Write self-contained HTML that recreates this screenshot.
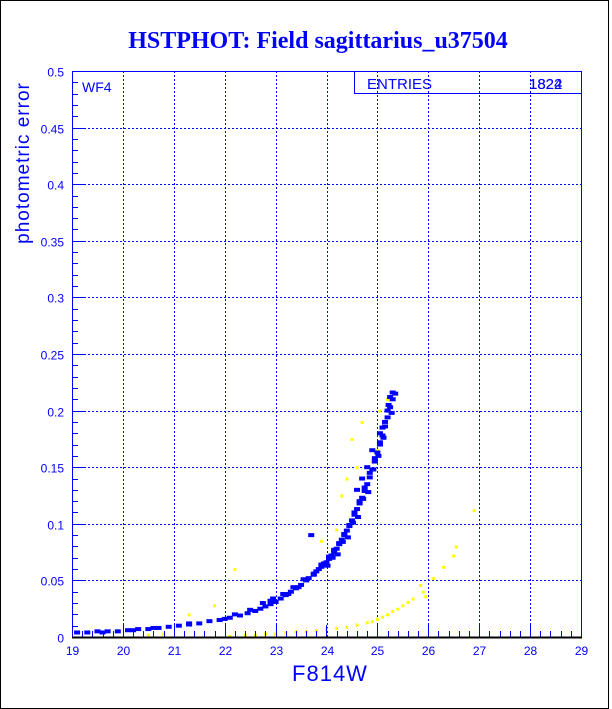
<!DOCTYPE html>
<html><head><meta charset="utf-8"><style>
html,body{margin:0;padding:0;background:#fff;}
svg{display:block;font-family:"Liberation Sans",sans-serif;}
</style></head><body>
<svg id="chart" width="612" height="709" viewBox="0 0 612 709" xmlns="http://www.w3.org/2000/svg">
<rect x="0.5" y="0.5" width="608" height="708" fill="#fff" stroke="#000" stroke-width="1"/>
<text x="318" y="48" text-anchor="middle" font-family="Liberation Serif,serif" font-weight="bold" font-size="24" fill="#0000ff">HSTPHOT: Field sagittarius_u37504</text>
<g id="grid"></g>
<g id="marks"></g>
<g id="axes"></g>
<text x="82" y="92" font-size="14" fill="#0000ff">WF4</text>
<g>
<rect x="354.5" y="71.5" width="227" height="22" fill="none" stroke="#0000ff"/>
<text x="367" y="89" font-size="15" fill="#0000ff">ENTRIES</text>
<text x="529" y="89" font-size="15" fill="#0000ff">1822</text>
<text x="529" y="89" font-size="15" fill="#0000ff">1824</text>
</g>
<text x="330" y="681" text-anchor="middle" font-size="22" letter-spacing="1" fill="#0000ff">F814W</text>
<text transform="translate(29,163) rotate(-90)" text-anchor="middle" font-size="19" letter-spacing="1" fill="#0000ff">photometric error</text>
</svg>
<script>
const xTicks=[19,20,21,22,23,24,25,26,27,28,29];
const yTicks=[0,0.05,0.1,0.15,0.2,0.25,0.3,0.35,0.4,0.45,0.5];
const yTickLabels=["0","0.05","0.1","0.15","0.2","0.25","0.3","0.35","0.4","0.45","0.5"];
const blueMag=[19.1,19.3,19.5,19.7,19.9,20.1,20.3,20.5,20.7,20.9,21.1,21.3,21.5,21.7,21.9,22.0,22.1,22.3,22.45,22.6,22.7,22.8,22.9,23.0,23.1,23.2,23.3,23.4,23.5,23.6,23.65,23.75,23.8,23.9,24.0,24.05,24.1,24.15,24.2,24.25,24.3,24.35,24.4,24.45,24.5,24.55,24.6,24.65,24.7,24.75,24.8,24.85,24.9,24.95,25.0,25.05,25.1,25.15,25.2,25.25,25.3,25.35,25.25,25.15,25.05,24.95,24.85,24.75,24.65,24.55,24.45,24.35,24.25,24.15,24.05,23.95,23.85,23.75,23.45,23.25,23.7,22.9,23.9,24.6,24.8,25.05,25.2,25.3,25.1,24.9,24.7,22.5,22.2,21.3,20.2,20.6,19.6,23.55,23.35,23.15,22.95,22.75,24.12,24.32,24.52,24.72,24.92,25.12,25.28,25.22,25.02,24.82,24.62,24.42,24.22,24.02];
const blueErr=[0.004,0.004,0.005,0.005,0.005,0.006,0.007,0.007,0.008,0.009,0.010,0.011,0.012,0.014,0.015,0.016,0.017,0.019,0.021,0.023,0.025,0.027,0.029,0.031,0.034,0.037,0.040,0.043,0.046,0.050,0.052,0.056,0.058,0.062,0.066,0.069,0.072,0.075,0.078,0.082,0.086,0.090,0.094,0.098,0.103,0.108,0.113,0.118,0.123,0.129,0.135,0.141,0.148,0.155,0.163,0.170,0.178,0.186,0.194,0.203,0.210,0.215,0.212,0.190,0.172,0.158,0.145,0.132,0.120,0.110,0.099,0.091,0.083,0.077,0.071,0.065,0.060,0.055,0.044,0.038,0.090,0.032,0.064,0.130,0.150,0.180,0.200,0.216,0.185,0.165,0.140,0.024,0.020,0.012,0.006,0.008,0.004,0.051,0.044,0.038,0.034,0.030,0.070,0.084,0.101,0.122,0.148,0.176,0.198,0.205,0.160,0.128,0.106,0.088,0.073,0.063];
const yellowMag=[22.1,22.4,22.6,22.8,23.0,23.2,23.4,23.6,23.8,24.0,24.2,24.4,24.6,24.8,24.9,25.0,25.1,25.2,25.3,25.4,25.5,25.6,25.7,25.85,25.9,26.1,26.3,26.5,26.55,26.9,24.2,24.4,24.5,24.6,24.7,24.9,25.1,25.2,24.3,23.9,25.05,21.8,21.3,20.5,20.8,22.2,25.95,25.0];
const yellowErr=[0.001,0.002,0.002,0.003,0.003,0.004,0.005,0.005,0.006,0.007,0.008,0.009,0.011,0.013,0.014,0.016,0.018,0.020,0.023,0.025,0.028,0.031,0.034,0.046,0.040,0.052,0.062,0.072,0.080,0.112,0.095,0.140,0.175,0.150,0.190,0.155,0.178,0.210,0.125,0.085,0.200,0.028,0.020,0.002,0.003,0.060,0.036,0.165];
const X0=72,X1=581,Y0=637,Y1=71;
function xs(v){return X0+(v-19)/(29-19)*(X1-X0);}
function ys(v){return Y0-(v-0)/(0.5-0)*(Y0-Y1);}
const NS="http://www.w3.org/2000/svg";
function mk(tag,attrs,parent){const e=document.createElementNS(NS,tag);for(const k in attrs)e.setAttribute(k,attrs[k]);parent.appendChild(e);return e;}
const grid=document.getElementById('grid'),axes=document.getElementById('axes'),marks=document.getElementById('marks');
xTicks.forEach(function(t,i){
  const x=Math.round(xs(t))+0.5;
  if(i>0&&i<xTicks.length-1){const g=mk('line',{x1:x,y1:Y1,x2:x,y2:Y0,stroke:'#0000ff','stroke-dasharray':'2,2'},grid);
  
  }
  const tl=mk('text',{x:x,y:Y0+18,'text-anchor':'middle','font-size':'12',fill:'#0000ff'},axes);
  tl.textContent=String(t);
  
  
});
for(let m=19;m<29;m+=0.2){const x=Math.round(xs(m))+0.5;const big=Math.abs(m-Math.round(m))<0.01;
  const tk=mk('line',{x1:x,y1:Y0,x2:x,y2:Y0-(big?12:6),stroke:'#0000ff'},axes);
  
  }
yTicks.forEach(function(t,i){
  const y=Math.round(ys(t))+0.5;
  if(i>0&&i<yTicks.length-1){const g=mk('line',{x1:X0,y1:y,x2:X1,y2:y,stroke:'#0000ff','stroke-dasharray':'2,2'},grid);
  
  }
  const tl=mk('text',{x:X0-8,y:y+5,'text-anchor':'end','font-size':'12',fill:'#0000ff'},axes);
  tl.textContent=yTickLabels[i];
  
  
});
for(let v=0;v<0.5;v+=0.01){const y=Math.round(ys(v))+0.5;
  const tk=mk('line',{x1:X0,y1:y,x2:X0+(Math.abs(v*20-Math.round(v*20))<0.01?12:6),y2:y,stroke:'#0000ff'},axes);
  
  }
const frame=mk('rect',{x:X0+0.5,y:Y1+0.5,width:X1-X0,height:Y0-Y1,fill:'none',stroke:'#0000ff'},axes);


const base=mk('line',{x1:X0,y1:Y0+0.5,x2:X1+1,y2:Y0+0.5,stroke:'#000','stroke-width':2},axes);


yellowMag.forEach(function(m,i){
  const r=mk('rect',{x:xs(m)-1.5,y:ys(yellowErr[i])-1,width:3,height:3,fill:'#ffff00'},marks);
  
  
});
blueMag.forEach(function(m,i){
  const r=mk('rect',{x:xs(m)-3,y:ys(blueErr[i])-2,width:6,height:4,fill:'#0000ff'},marks);
  
  
});
</script>
</body></html>
